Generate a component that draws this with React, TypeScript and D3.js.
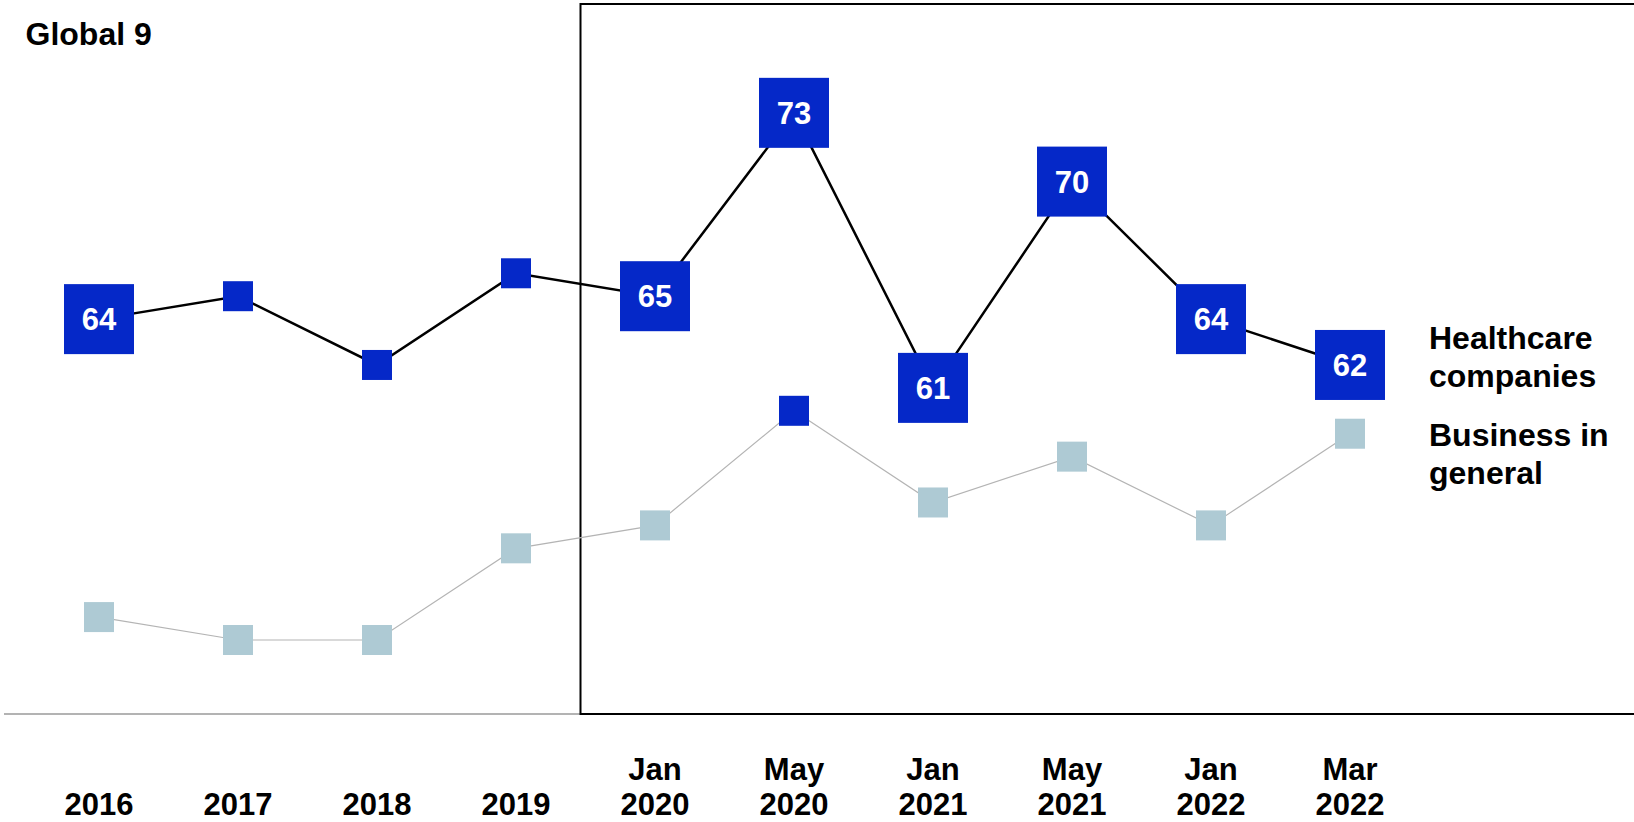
import React from "react";
import * as d3 from "d3";

const tickTop = ["", "", "", "", "Jan", "May", "Jan", "May", "Jan", "Mar"];
const tickBottom = ["2016", "2017", "2018", "2019", "2020", "2020", "2021", "2021", "2022", "2022"];
const categories = tickBottom.map((b, i) => (tickTop[i] ? tickTop[i] + " " : "") + b);

const healthcare = [64, 65, 62, 66, 65, 73, 61, 70, 64, 62];
const healthcareLabeled = [true, false, false, false, true, true, true, true, true, true];
const business = [51, 50, 50, 54, 55, 60, 56, 58, 55, 59];
const businessHighlight = [false, false, false, false, false, true, false, false, false, false];

const title = "Global 9";
const legendHealthcare = ["Healthcare", "companies"];
const legendBusiness = ["Business in", "general"];

const W = 1634;
const H = 822;
const BLUE = "#0528C8";
const LIGHT = "#AECAD4";
const FONT = "'Liberation Sans', Arial, Helvetica, sans-serif";
const FS = 31;
const FS_TEXT = 32;

export default function App() {
  const x = d3.scalePoint<string>().domain(categories).range([99, 1350]).padding(0);
  const y = d3.scaleLinear().domain([50, 75]).range([640, 67]);
  const line = d3
    .line<number>()
    .x((_, i) => x(categories[i]) as number)
    .y((d) => y(d));

  const big = 70;
  const small = 30;
  const axisY = 714;
  const frameX = 580.5;

  return (
    <div style={{ position: "absolute", left: 0, top: 0 }}>
      <svg width={W} height={H} style={{ display: "block", background: "#fff" }} fontFamily={FONT}>
        <rect x={0} y={0} width={W} height={H} fill="#fff" />
        {/* axis line */}
        <line x1={4} x2={frameX} y1={axisY} y2={axisY} stroke="#9a9a9a" strokeWidth={1.5} />
        {/* frame */}
        <rect x={frameX} y={4} width={W - frameX + 10} height={axisY - 4} fill="none" stroke="#000" strokeWidth={2} />

        {/* title */}
        <text x={25.5} y={45} fontSize={FS_TEXT} fontWeight="bold" fill="#000">
          {title}
        </text>

        {/* business series */}
        <path d={line(business) || ""} fill="none" stroke="#b4b4b4" strokeWidth={1.2} />
        {business.map((v, i) => (
          <rect
            key={"b" + i}
            x={(x(categories[i]) as number) - small / 2}
            y={y(v) - small / 2}
            width={small}
            height={small}
            fill={businessHighlight[i] ? BLUE : LIGHT}
          />
        ))}

        {/* healthcare series */}
        <path d={line(healthcare) || ""} fill="none" stroke="#000" strokeWidth={2.5} />
        {healthcare.map((v, i) => {
          const s = healthcareLabeled[i] ? big : small;
          const cx = x(categories[i]) as number;
          const cy = y(v);
          return (
            <g key={"h" + i}>
              <rect x={cx - s / 2} y={cy - s / 2} width={s} height={s} fill={BLUE} />
              {healthcareLabeled[i] && (
                <text x={cx} y={cy} dy="0.36em" textAnchor="middle" fontSize={FS} fontWeight="bold" fill="#fff">
                  {v}
                </text>
              )}
            </g>
          );
        })}

        {/* legend */}
        {legendHealthcare.map((t, i) => (
          <text key={"lh" + i} x={1429} y={349 + i * 38} fontSize={FS_TEXT} fontWeight="bold" fill="#000">
            {t}
          </text>
        ))}
        {legendBusiness.map((t, i) => (
          <text key={"lb" + i} x={1429} y={446 + i * 38} fontSize={FS_TEXT} fontWeight="bold" fill="#000">
            {t}
          </text>
        ))}

        {/* x tick labels */}
        {categories.map((c, i) => (
          <g key={"t" + i}>
            {tickTop[i] && (
              <text x={x(c) as number} y={780} textAnchor="middle" fontSize={FS} fontWeight="bold" fill="#000">
                {tickTop[i]}
              </text>
            )}
            <text x={x(c) as number} y={815} textAnchor="middle" fontSize={FS} fontWeight="bold" fill="#000">
              {tickBottom[i]}
            </text>
          </g>
        ))}
      </svg>
    </div>
  );
}
